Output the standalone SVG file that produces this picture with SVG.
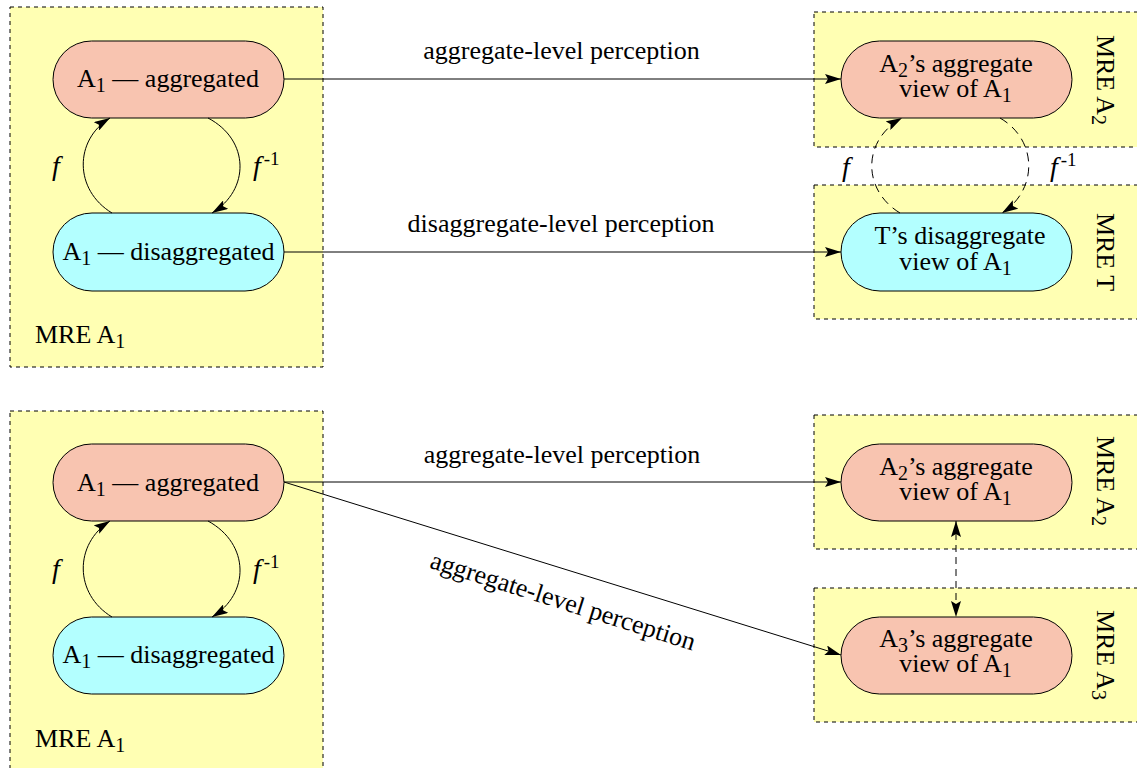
<svg xmlns="http://www.w3.org/2000/svg" width="1137" height="768" viewBox="0 0 1137 768">
<style>
.box{fill:#ffffb3;stroke:#000;stroke-width:1;stroke-dasharray:4,4}
.agg{fill:#f8c4b0;stroke:#000;stroke-width:1}
.dis{fill:#b3ffff;stroke:#000;stroke-width:1}
.t{font-family:"Liberation Serif","Times New Roman",Times,serif;font-size:26px;fill:#000}
.m{text-anchor:middle}
.it{font-style:italic;font-size:28px}
.sup{font-size:19px}
.ln{fill:none;stroke:#000;stroke-width:1}
.dash{stroke-dasharray:9,6}
.dash2{stroke-dasharray:7,5}
</style>
<defs>
<marker id="ah" viewBox="0 0 16 10" refX="16" refY="5" markerWidth="16" markerHeight="10" markerUnits="userSpaceOnUse" orient="auto-start-reverse">
<path d="M0,0 L16,5 L0,10 L3,5 z" fill="#000" stroke="none"/>
</marker>
</defs>

<!-- containers -->
<g id="mre-a1-top">
<rect class="box" x="10" y="7" width="313" height="360"/>
<text class="t" x="35" y="343">MRE A<tspan font-size="20" dy="5">1</tspan></text>
</g>
<g id="mre-a2-top">
<rect class="box" x="814" y="12" width="340" height="135"/>
<text class="t m" transform="translate(1097,80) rotate(90)">MRE A<tspan font-size="20" dy="5">2</tspan></text>
</g>
<g id="mre-t-top">
<rect class="box" x="814" y="185" width="340" height="134"/>
<text class="t m" transform="translate(1097,252) rotate(90)">MRE T</text>
</g>
<g id="mre-a1-bottom">
<rect class="box" x="10" y="411" width="313" height="370"/>
<text class="t" x="35" y="747">MRE A<tspan font-size="20" dy="5">1</tspan></text>
</g>
<g id="mre-a2-bottom">
<rect class="box" x="814" y="415" width="340" height="134"/>
<text class="t m" transform="translate(1097,481) rotate(90)">MRE A<tspan font-size="20" dy="5">2</tspan></text>
</g>
<g id="mre-a3-bottom">
<rect class="box" x="814" y="588" width="340" height="134"/>
<text class="t m" transform="translate(1097,655) rotate(90)">MRE A<tspan font-size="20" dy="5">3</tspan></text>
</g>

<!-- nodes -->
<g id="a1-agg-top">
<rect class="agg" x="53" y="41" width="231" height="77" rx="38.5"/>
<text class="t m" x="168" y="87">A<tspan font-size="20" dy="5">1</tspan><tspan dy="-5"> — aggregated</tspan></text>
</g>
<g id="a1-dis-top">
<rect class="dis" x="53" y="213" width="231" height="78" rx="39"/>
<text class="t m" x="168.5" y="260">A<tspan font-size="20" dy="5">1</tspan><tspan dy="-5"> — disaggregated</tspan></text>
</g>
<g id="a2-view-top">
<rect class="agg" x="841" y="41" width="231" height="77" rx="38.5"/>
<text class="t m" x="956" y="72">A<tspan font-size="20" dy="5">2</tspan><tspan dy="-5">’s aggregate</tspan></text>
<text class="t m" x="955.5" y="97">view of A<tspan font-size="20" dy="5">1</tspan></text>
</g>
<g id="t-view-top">
<rect class="dis" x="841" y="213" width="231" height="78" rx="39"/>
<text class="t m" x="960" y="244">T’s disaggregate</text>
<text class="t m" x="955.5" y="270">view of A<tspan font-size="20" dy="5">1</tspan></text>
</g>
<g id="a1-agg-bottom">
<rect class="agg" x="53" y="444" width="231" height="77" rx="38.5"/>
<text class="t m" x="168" y="491">A<tspan font-size="20" dy="5">1</tspan><tspan dy="-5"> — aggregated</tspan></text>
</g>
<g id="a1-dis-bottom">
<rect class="dis" x="53" y="617" width="231" height="77" rx="38.5"/>
<text class="t m" x="168.5" y="663">A<tspan font-size="20" dy="5">1</tspan><tspan dy="-5"> — disaggregated</tspan></text>
</g>
<g id="a2-view-bottom">
<rect class="agg" x="841" y="444" width="231" height="77" rx="38.5"/>
<text class="t m" x="956" y="475">A<tspan font-size="20" dy="5">2</tspan><tspan dy="-5">’s aggregate</tspan></text>
<text class="t m" x="955.5" y="500">view of A<tspan font-size="20" dy="5">1</tspan></text>
</g>
<g id="a3-view-bottom">
<rect class="agg" x="841" y="617" width="231" height="77" rx="38.5"/>
<text class="t m" x="956" y="647">A<tspan font-size="20" dy="5">3</tspan><tspan dy="-5">’s aggregate</tspan></text>
<text class="t m" x="955.5" y="672">view of A<tspan font-size="20" dy="5">1</tspan></text>
</g>

<!-- connectors -->
<g id="connectors">
<path class="ln" d="M284,79 L841,79" marker-end="url(#ah)"/>
<path class="ln" d="M284,252 L841,252" marker-end="url(#ah)"/>
<path class="ln" d="M112,213 C74,190 74,140 110,118" marker-end="url(#ah)"/>
<path class="ln" d="M208,118 C250,140 250,190 212,213" marker-end="url(#ah)"/>
<path class="ln dash" d="M900,213 C862,190 862,140 902,118" marker-end="url(#ah)"/>
<path class="ln dash" d="M1000,118 C1038,140 1038,190 1002,213" marker-end="url(#ah)"/>

<path class="ln" d="M284,482 L841,482" marker-end="url(#ah)"/>
<path class="ln" d="M284,482 L841,655" marker-end="url(#ah)"/>
<path class="ln" d="M112,617 C74,594 74,544 110,521" marker-end="url(#ah)"/>
<path class="ln" d="M208,521 C250,544 250,594 212,617" marker-end="url(#ah)"/>
<path class="ln dash2" d="M956,521 L956,617" marker-start="url(#ah)" marker-end="url(#ah)"/>

<text class="t m" x="561.5" y="59">aggregate-level perception</text>
<text class="t m" x="561" y="232">disaggregate-level perception</text>
<text class="t m" x="562" y="463">aggregate-level perception</text>
<text class="t m" transform="translate(560.5,609) rotate(17.5)">aggregate-level perception</text>

<text class="t it" x="52" y="175">f</text>
<text class="t" x="253" y="175"><tspan class="it">f</tspan><tspan class="sup" dx="3" dy="-10">-1</tspan></text>
<text class="t it" x="842" y="176">f</text>
<text class="t" x="1050" y="176"><tspan class="it">f</tspan><tspan class="sup" dx="3" dy="-10">-1</tspan></text>
<text class="t it" x="52" y="578">f</text>
<text class="t" x="253" y="578"><tspan class="it">f</tspan><tspan class="sup" dx="3" dy="-10">-1</tspan></text>
</g>
</svg>
